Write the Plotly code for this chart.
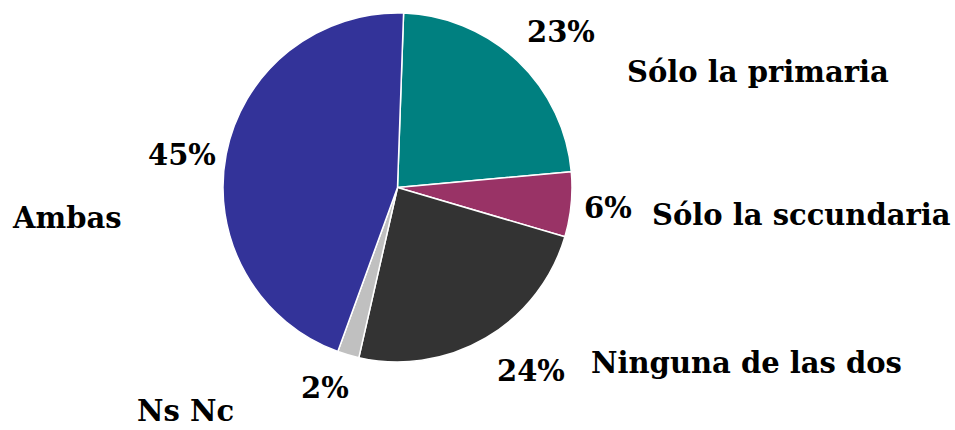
import plotly.graph_objects as go

categories = ["Sólo la primaria", "Sólo la sccundaria", "Ninguna de las dos", "Ns Nc", "Ambas"]
values = [23, 6, 24, 2, 45]
colors = ["#008080", "#993366", "#333333", "#C0C0C0", "#333399"]

# label placements (pixels from top-left) for percentage and name texts
pct_pos = [(561, 32), (608, 208), (531, 371), (325, 388), (182, 155)]
name_pos = [(758, 72), (801, 215), (746, 363), (185, 411), (67, 218)]

W, H = 955, 430
font = dict(family="DejaVu Serif", size=29, color="black")

fig = go.Figure(go.Pie(
    labels=categories,
    values=values,
    marker=dict(colors=colors, line=dict(color="white", width=1.5)),
    sort=False,
    direction="clockwise",
    rotation=2,
    textinfo="none",
    hoverinfo="label+percent",
    showlegend=False,
    domain=dict(x=[222 / W, 573 / W], y=[(H - 362) / H, (H - 13) / H]),
))

total = sum(values)
annotations = []
for cat, v, (px, py), (nx, ny) in zip(categories, values, pct_pos, name_pos):
    annotations.append(dict(x=px / W, y=1 - py / H, xref="paper", yref="paper",
                            text="<b>%d%%</b>" % round(100 * v / total),
                            showarrow=False, font=font, xanchor="center", yanchor="middle"))
    annotations.append(dict(x=nx / W, y=1 - ny / H, xref="paper", yref="paper",
                            text="<b>%s</b>" % cat,
                            showarrow=False, font=font, xanchor="center", yanchor="middle"))

fig.update_layout(
    width=W, height=H,
    margin=dict(l=0, r=0, t=0, b=0),
    paper_bgcolor="white",
    plot_bgcolor="white",
    annotations=annotations,
)

fig.write_html("out.html", config={"displayModeBar": False},
               post_script="document.body.style.margin='0';document.body.style.overflow='hidden';")
